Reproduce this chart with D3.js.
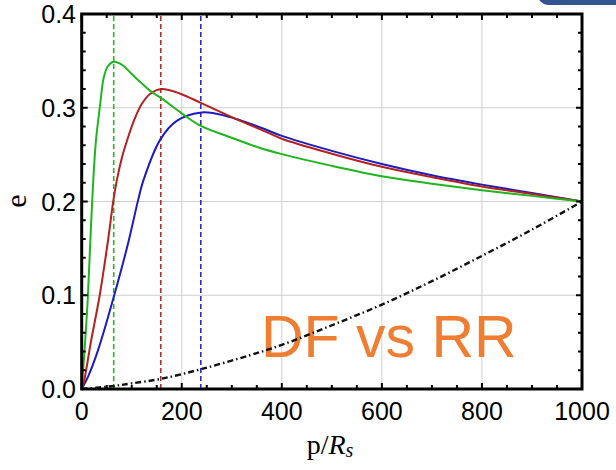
<!DOCTYPE html>
<html>
<head>
<meta charset="utf-8">
<script src="https://cdn.jsdelivr.net/npm/d3@7"></script>
<style>
  body { margin: 0; background: #fff; }
  svg { display: block; }
</style>
</head>
<body>
<div id="my_dataviz"></div>
<script>
// values
var pGreen = [0, 5, 12, 20, 28, 37, 44, 52, 64, 80, 100, 120, 137, 157, 200, 237, 300, 357, 400, 500, 600, 700, 800, 900, 1000];
var eGreen = [0, 0.036, 0.095, 0.19, 0.262, 0.304, 0.332, 0.344, 0.349, 0.346, 0.336, 0.326, 0.318, 0.311, 0.294, 0.281, 0.268, 0.257, 0.2505, 0.238, 0.227, 0.219, 0.212, 0.206, 0.2];

var pRed = [0, 3, 19, 36, 53, 63, 70, 80, 90, 105, 120, 137, 160, 197, 237, 300, 357, 400, 500, 600, 700, 800, 900, 1000];
var eRed = [0, 0.004, 0.052, 0.1, 0.16, 0.2, 0.222, 0.246, 0.264, 0.287, 0.304, 0.315, 0.32, 0.315, 0.3055, 0.29, 0.277, 0.267, 0.251, 0.237, 0.226, 0.216, 0.208, 0.2];

var pBlue = [0, 13, 33, 65, 93, 113, 123, 157, 190, 240, 290, 357, 400, 500, 600, 700, 800, 900, 1000];
var eBlue = [0, 0.0135, 0.042, 0.1, 0.156, 0.202, 0.222, 0.266, 0.286, 0.295, 0.291, 0.279, 0.270, 0.254, 0.240, 0.228, 0.218, 0.209, 0.2];

var pBlack = [0, 60, 100, 160, 240, 336, 400, 500, 600, 700, 800, 900, 1000];
var eBlack = [0, 0.003, 0.006, 0.011, 0.0214, 0.036, 0.047, 0.068, 0.090, 0.115, 0.142, 0.170, 0.2];

var peakP = [64, 158, 238];
var peakColors = ["#22bb22", "#b52a2a", "#2a2ac0"];

var xTicks = [0, 200, 400, 600, 800, 1000];
var yTicks = [0, 0.1, 0.2, 0.3, 0.4];

var W = 616, H = 470;

var svg = d3.select("#my_dataviz")
  .append("svg")
    .attr("width", W)
    .attr("height", H);

var x = d3.scaleLinear().domain([0, 1000]).range([81.7, 582]);
var y = d3.scaleLinear().domain([0, 0.4]).range([389, 14]);

// blue blob in the top right corner
svg.append("rect")
  .attr("x", 537).attr("y", -30)
  .attr("width", 110).attr("height", 35)
  .attr("rx", 12)
  .attr("fill", "#34558f");

// grid
svg.append("g")
  .selectAll("line")
  .data([200, 400, 600, 800])
  .enter().append("line")
    .attr("x1", function(d) { return x(d); })
    .attr("x2", function(d) { return x(d); })
    .attr("y1", y(0)).attr("y2", y(0.4))
    .attr("stroke", "#cfcfcf").attr("stroke-width", 1);

svg.append("g")
  .selectAll("line")
  .data([0.1, 0.2, 0.3])
  .enter().append("line")
    .attr("y1", function(d) { return y(d); })
    .attr("y2", function(d) { return y(d); })
    .attr("x1", x(0)).attr("x2", x(1000))
    .attr("stroke", "#cfcfcf").attr("stroke-width", 1);

// big label
svg.append("text")
  .attr("x", 261)
  .attr("y", 357)
  .style("font-family", "'Liberation Sans', Arial, sans-serif")
  .style("font-size", "59px")
  .attr("fill", "#ef7d32")
  .text("DF vs RR");

// dashed peak markers
svg.append("g")
  .selectAll("line")
  .data(peakP)
  .enter().append("line")
    .attr("x1", function(d) { return x(d); })
    .attr("x2", function(d) { return x(d); })
    .attr("y1", y(0)).attr("y2", y(0.4))
    .attr("stroke", function(d, i) { return peakColors[i]; })
    .attr("stroke-width", 1.6)
    .attr("stroke-dasharray", "5,3");

var line = d3.line()
  .x(function(d) { return x(d[0]); })
  .y(function(d) { return y(d[1]); })
  .curve(d3.curveCatmullRom.alpha(0.5));

function pairs(ps, es) { return ps.map(function(p, i) { return [p, es[i]]; }); }

svg.append("path")
  .datum(pairs(pBlack, eBlack))
  .attr("fill", "none")
  .attr("stroke", "#111")
  .attr("stroke-width", 2.4)
  .attr("stroke-dasharray", "6,3,1.5,3")
  .attr("d", line);

svg.append("path")
  .datum(pairs(pBlue, eBlue))
  .attr("fill", "none")
  .attr("stroke", "#1d1dbf")
  .attr("stroke-width", 2)
  .attr("d", line);

svg.append("path")
  .datum(pairs(pRed, eRed))
  .attr("fill", "none")
  .attr("stroke", "#b32121")
  .attr("stroke-width", 2)
  .attr("d", line);

svg.append("path")
  .datum(pairs(pGreen, eGreen))
  .attr("fill", "none")
  .attr("stroke", "#1fb51f")
  .attr("stroke-width", 2)
  .attr("d", line);

// frame ticks (inside, all four sides)
var xMinor = d3.range(0, 1001, 50);
var yMinor = d3.range(0, 0.4001, 0.02);

function isMajorX(d) { return d % 200 === 0; }
function isMajorY(d) { return Math.abs(d * 10 - Math.round(d * 10)) < 1e-6; }

var ticks = svg.append("g").attr("stroke", "#000").attr("stroke-width", 2);

xMinor.forEach(function(d) {
  var len = isMajorX(d) ? 6 : 4;
  ticks.append("line").attr("x1", x(d)).attr("x2", x(d)).attr("y1", y(0)).attr("y2", y(0) - len);
  ticks.append("line").attr("x1", x(d)).attr("x2", x(d)).attr("y1", y(0.4)).attr("y2", y(0.4) + len);
});
yMinor.forEach(function(d) {
  var len = isMajorY(d) ? 6 : 4;
  ticks.append("line").attr("y1", y(d)).attr("y2", y(d)).attr("x1", x(0)).attr("x2", x(0) + len);
  ticks.append("line").attr("y1", y(d)).attr("y2", y(d)).attr("x1", x(1000)).attr("x2", x(1000) - len);
});

// frame
svg.append("rect")
  .attr("x", x(0)).attr("y", y(0.4))
  .attr("width", x(1000) - x(0))
  .attr("height", y(0) - y(0.4))
  .attr("fill", "none")
  .attr("stroke", "#000")
  .attr("stroke-width", 3);

// tick labels
svg.append("g")
  .selectAll("text")
  .data(xTicks)
  .enter().append("text")
    .attr("x", function(d) { return x(d); })
    .attr("y", 420)
    .attr("text-anchor", "middle")
    .style("font-family", "'Liberation Sans', Arial, sans-serif")
    .style("font-size", "25px")
    .text(function(d) { return d; });

svg.append("g")
  .selectAll("text")
  .data(yTicks)
  .enter().append("text")
    .attr("x", 76)
    .attr("y", function(d) { return y(d) + 9; })
    .attr("text-anchor", "end")
    .style("font-family", "'Liberation Sans', Arial, sans-serif")
    .style("font-size", "25px")
    .text(function(d) { return d.toFixed(1); });

// axis labels
svg.append("text")
  .attr("transform", "translate(26,201) rotate(-90)")
  .attr("text-anchor", "middle")
  .style("font-family", "'Liberation Serif', 'Times New Roman', serif")
  .style("font-size", "30px")
  .text("e");

var xl = svg.append("text")
  .attr("x", 330)
  .attr("y", 454)
  .attr("text-anchor", "middle")
  .style("font-family", "'Liberation Serif', 'Times New Roman', serif")
  .style("font-size", "28px");
xl.append("tspan").text("p/");
xl.append("tspan").style("font-style", "italic").text("R");
xl.append("tspan").style("font-style", "italic").style("font-size", "20px").attr("dy", 3).text("s");
</script>
</body>
</html>
